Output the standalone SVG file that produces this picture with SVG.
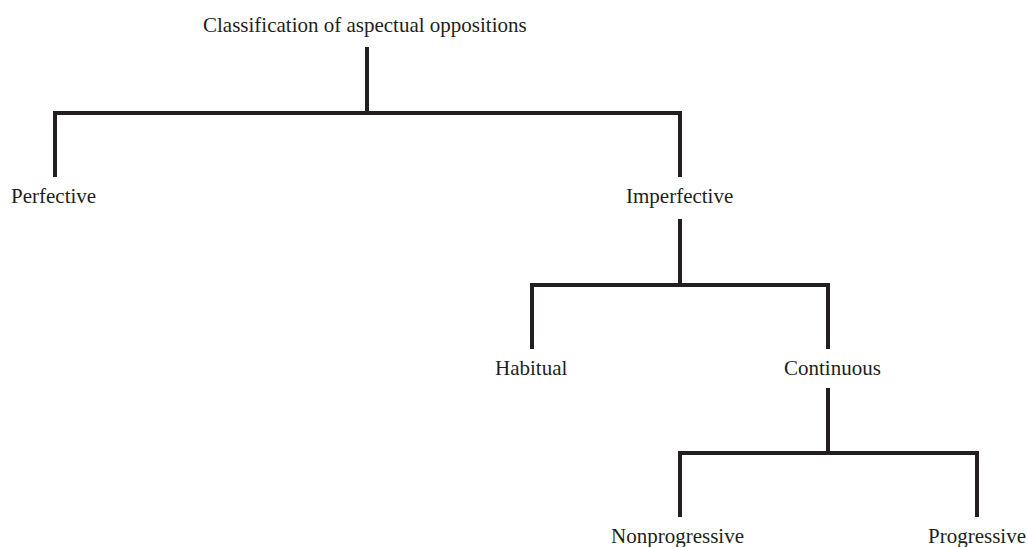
<svg xmlns="http://www.w3.org/2000/svg" width="1028" height="547" viewBox="0 0 1028 547">
  <style>
    .label { font-family: "Liberation Serif", "Times New Roman", serif; font-size: 21px; fill: #231f20; }
    .link { fill: none; stroke: #231f20; stroke-width: 4; stroke-linecap: butt; stroke-linejoin: miter; }
  </style>
  <rect width="1028" height="547" fill="#ffffff"/>

  <!-- tree connectors: stem from parent, crossbar, drops to children -->
  <g id="connectors">
    <path class="link" d="M367,47 V113 M55,177 V113 H680 V177"/>
    <path class="link" d="M680,219 V285 M532,349 V285 H828 V349"/>
    <path class="link" d="M828,388 V453 M680,517 V453 H977 V517"/>
  </g>

  <g id="root"><text class="label" x="203" y="32">Classification of aspectual oppositions</text></g>
  <g id="perfective"><text class="label" x="11" y="203">Perfective</text></g>
  <g id="imperfective"><text class="label" x="626" y="203">Imperfective</text></g>
  <g id="habitual"><text class="label" x="495" y="375">Habitual</text></g>
  <g id="continuous"><text class="label" x="784" y="375">Continuous</text></g>
  <g id="nonprogressive"><text class="label" x="611" y="543">Nonprogressive</text></g>
  <g id="progressive"><text class="label" x="928" y="543">Progressive</text></g>
</svg>
